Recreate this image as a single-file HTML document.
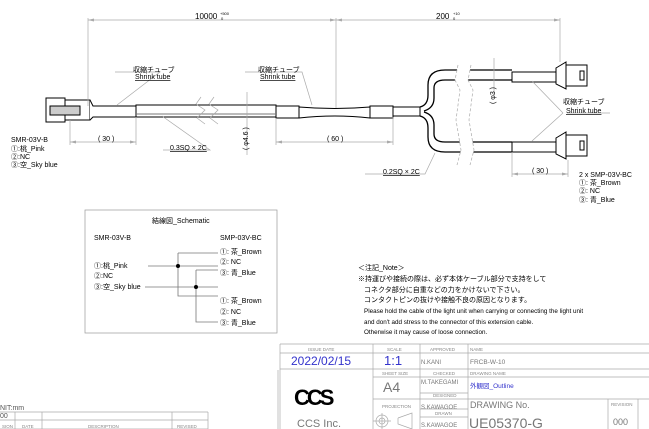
<!DOCTYPE html>
<html><head><meta charset="utf-8"><style>
html,body{margin:0;padding:0;background:#fff;}
svg{display:block;font-family:"Liberation Sans","Noto Sans CJK JP",sans-serif;}
</style></head><body>
<svg width="649" height="429" viewBox="0 0 649 429" xmlns="http://www.w3.org/2000/svg">
<g stroke="#000" stroke-width="1" fill="#fff">
<rect x="46" y="98" width="19" height="24"/>
<rect x="65" y="100" width="25" height="20"/>
<rect x="50" y="106" width="30" height="9" fill="#ccc"/>
<path d="M90,100 L93,106 H136 V117 H93 L90,120"/>
<rect x="136" y="105" width="140" height="12"/>
<rect x="276" y="106" width="23" height="12"/>
<path d="M299,107 Q335,110 370,107 V118 Q335,114 299,118 Z"/>
<rect x="370" y="106" width="23" height="12"/>
<rect x="393" y="107" width="27" height="9"/>
<path d="M420,107 Q428,105 428,95 V85 Q428,70 445,70 H512 M420,116 Q428,118 428,128 V137 Q428,152 445,152 H512" fill="none" stroke-width="1.3"/>
<path d="M424,111 Q434,108 434,98 V88 Q434,80 445,80 H512 M424,112 Q434,115 434,125 V134 Q434,142 445,142 H512" fill="none" stroke-width="1.3"/>
<rect x="512" y="72" width="44" height="10"/>
<rect x="512" y="142" width="44" height="10"/>
<path d="M556,68 L566,62 V89 L556,84 Z"/><rect x="566" y="65" width="21" height="21"/><rect x="580" y="71" width="4" height="9"/>
<path d="M556,138 L566,132 V159 L556,154 Z"/><rect x="566" y="135" width="21" height="21"/><rect x="580" y="141" width="4" height="9"/>
<line x1="136" y1="114" x2="276" y2="114" stroke="#777"/>
</g>
<polygon points="458,65 455,80 460,90 456,120 461,150 457,165 470,165 474,150 469,120 473,90 468,80 471,65" fill="#fff"/>
<g stroke="#aaa" stroke-width="0.7" fill="none">
<line x1="88" y1="20" x2="560" y2="20"/>
<line x1="88" y1="18" x2="88" y2="106"/>
<line x1="336" y1="18" x2="336" y2="108"/>
<line x1="560" y1="18" x2="560" y2="62"/>
<line x1="70" y1="142" x2="136" y2="142"/><line x1="70" y1="120" x2="70" y2="145"/><line x1="136" y1="117" x2="136" y2="145"/>
<line x1="276" y1="142" x2="393" y2="142"/><line x1="276" y1="118" x2="276" y2="145"/><line x1="393" y1="117" x2="393" y2="145"/>
<line x1="247" y1="92" x2="247" y2="155"/>
<line x1="494" y1="58" x2="494" y2="96"/>
<line x1="512" y1="174" x2="568" y2="174"/><line x1="512" y1="152" x2="512" y2="177"/><line x1="568" y1="160" x2="568" y2="177"/>
<polyline points="115,72 160,72 117,105"/>
<polyline points="245,72 302,72 312,105"/>
<polyline points="163,150 210,150 162,116"/>
<polyline points="567,113 610,113 607,113"/>
<line x1="563" y1="113" x2="532" y2="81"/><line x1="563" y1="113" x2="532" y2="141"/>
<polyline points="365,174 425,174 435,153"/>
<polyline points="201,97 196,104 205,110 197,118 205,124"/>
<polyline points="214,97 209,104 218,110 210,118 218,124"/>
<polyline points="458,65 455,80 460,90 456,120 461,150 457,165" stroke-dasharray="3,2"/>
<polyline points="471,65 468,80 473,90 469,120 474,150 470,165" stroke-dasharray="3,2"/>
<rect x="85" y="210" width="192" height="123" stroke="#999"/>
<line x1="280" y1="344" x2="649" y2="344"/>
<line x1="280" y1="353" x2="649" y2="353"/>
<line x1="280" y1="369" x2="649" y2="369"/>
<line x1="373" y1="377" x2="649" y2="377"/>
<line x1="420" y1="393" x2="468" y2="393"/>
<line x1="420" y1="399" x2="649" y2="399"/>
<line x1="420" y1="409" x2="468" y2="409"/>
<line x1="420" y1="417" x2="468" y2="417"/>
<line x1="373" y1="344" x2="373" y2="429"/>
<line x1="420" y1="344" x2="420" y2="429"/>
<line x1="468" y1="344" x2="468" y2="429"/>
<line x1="608" y1="399" x2="608" y2="429"/>
<line x1="638" y1="399" x2="638" y2="429"/>
<line x1="280" y1="344" x2="280" y2="429"/>
<line x1="278" y1="370" x2="278" y2="429"/>
<line x1="373" y1="399" x2="420" y2="399"/>
<line x1="0" y1="412" x2="208" y2="412"/><line x1="0" y1="420" x2="208" y2="420"/><line x1="0" y1="429" x2="208" y2="429"/>
<line x1="15" y1="412" x2="15" y2="429"/><line x1="42" y1="412" x2="42" y2="429"/><line x1="172" y1="412" x2="172" y2="429"/><line x1="208" y1="412" x2="208" y2="429"/>
<circle cx="382" cy="421" r="6"/><circle cx="382" cy="421" r="3"/><line x1="373" y1="421" x2="391" y2="421"/><line x1="382" y1="413" x2="382" y2="429"/>
<polyline points="398,418 412,413 412,429 398,424 398,418"/>
</g>
<g fill="#aaa"><path d="M88,20 l6,-1.5 v3z M336,20 l-6,-1.5 v3z M336,20 l6,-1.5 v3z M560,20 l-6,-1.5 v3z M70,142 l6,-1.5v3z M136,142 l-6,-1.5v3z M276,142 l6,-1.5v3z M393,142 l-6,-1.5v3z M512,174 l6,-1.5v3z M568,174 l-6,-1.5v3z"/></g>
<g stroke="#777" stroke-width="0.8" fill="none">
<line x1="148" y1="266" x2="218" y2="266"/>
<polyline points="178,253 178,296 218,296"/>
<line x1="178" y1="253" x2="218" y2="253"/>
<line x1="145" y1="287" x2="218" y2="287"/>
<polyline points="196,270 196,322 218,322"/>
<line x1="196" y1="270" x2="218" y2="270"/>
</g>
<circle cx="178" cy="266" r="2" fill="#000"/><circle cx="196" cy="287" r="2" fill="#000"/>
<g font-size="7" fill="#000">
<text x="195" y="19" font-size="8">10000</text><text x="220" y="15" font-size="4">+500</text><text x="221" y="20" font-size="4">0</text>
<text x="436" y="19" font-size="8">200</text><text x="453" y="15" font-size="4">+10</text><text x="453" y="20" font-size="4">0</text>
<text x="133" y="72">収縮チューブ</text><text x="135" y="79" text-decoration="underline">Shrink tube</text>
<text x="258" y="72">収縮チューブ</text><text x="260" y="79" text-decoration="underline">Shrink tube</text>
<text x="563" y="104">収縮チューブ</text><text x="566" y="113" text-decoration="underline">Shrink tube</text>
<text x="98" y="141">( 30 )</text><text x="327" y="141">( 60 )</text><text x="532" y="173">( 30 )</text>
<text x="170" y="150" text-decoration="underline">0.3SQ × 2C</text>
<text x="383" y="174" text-decoration="underline">0.2SQ × 2C</text>
<text transform="translate(248,150) rotate(-90)">( φ4.6 )</text>
<text transform="translate(495,104) rotate(-90)">( φ3 )</text>
<text x="11" y="142">SMR-03V-B</text><text x="11" y="151">①:桃_Pink</text><text x="11" y="159">②:NC</text><text x="11" y="167">③:空_Sky blue</text>
<text x="579" y="177">2 x SMP-03V-BC</text><text x="579" y="185">①: 茶_Brown</text><text x="579" y="193">②: NC</text><text x="579" y="202">③: 青_Blue</text>
<text x="152" y="223">結線図_Schematic</text>
<text x="94" y="240">SMR-03V-B</text><text x="220" y="240">SMP-03V-BC</text>
<text x="94" y="268">①:桃_Pink</text><text x="94" y="278">②:NC</text><text x="94" y="289">③:空_Sky blue</text>
<text x="220" y="254">①: 茶_Brown</text><text x="220" y="264">②: NC</text><text x="220" y="275">③: 青_Blue</text>
<text x="220" y="303">①: 茶_Brown</text><text x="220" y="314">②: NC</text><text x="220" y="325">③: 青_Blue</text>
<text x="358" y="270">＜注記_Note＞</text>
<text x="358" y="281">※持運びや接続の際は、必ず本体ケーブル部分で支持をして</text>
<text x="364" y="292">コネクタ部分に自重などの力をかけないで下さい。</text>
<text x="364" y="302">コンタクトピンの抜けや接触不良の原因となります。</text>
<text x="364" y="313" font-size="6.3">Please hold the cable of the light unit when carrying or connecting the light unit</text>
<text x="364" y="324" font-size="6.3">and don't add stress to the connector of this extension cable.</text>
<text x="364" y="334" font-size="6.3">Otherwise it may cause of loose connection.</text>
<text x="0" y="410" font-size="7" fill="#555">NIT:mm</text>
<text x="0" y="418" fill="#555">00</text>
</g>
<g font-size="4.5" fill="#888">
<text x="308" y="351">ISSUE DATE</text><text x="387" y="351">SCALE</text><text x="430" y="351">APPROVED</text><text x="470" y="351">NAME</text>
<text x="382" y="375">SHEET SIZE</text><text x="433" y="375">CHECKED</text><text x="470" y="375">DRAWING NAME</text>
<text x="433" y="397">DESIGNED</text><text x="382" y="408">PROJECTION</text><text x="435" y="415">DRAWN</text><text x="611" y="406">REVISION</text>
<text x="2" y="428">SION</text><text x="22" y="428">DATE</text><text x="88" y="428">DESCRIPTION</text><text x="177" y="428">REVISED</text>
</g>
<g fill="#777">
<text x="421" y="364" font-size="6">N.KANI</text><text x="421" y="384" font-size="6">M.TAKEGAMI</text>
<text x="421" y="409" font-size="6">S.KAWAGOE</text><text x="421" y="427" font-size="6">S.KAWAGOE</text>
<text x="470" y="364" font-size="6.5">FRCB-W-10</text>
<text x="470" y="408" font-size="9">DRAWING No.</text>
<text x="469" y="428" font-size="14">UE05370-G</text>
<text x="613" y="425" font-size="9">000</text>
<text x="383" y="392" font-size="14">A4</text>
<text x="297" y="427" font-size="11">CCS Inc.</text>
</g>
<text x="291" y="365" font-size="12" fill="#33c">2022/02/15</text>
<text x="384" y="365" font-size="13" fill="#33c">1:1</text>
<text x="470" y="388" font-size="6.5" fill="#33c">外観図_Outline</text>
<text x="294" y="405" font-size="22" font-weight="bold" fill="#000" letter-spacing="-3">CCS</text>
</svg>
</body></html>
